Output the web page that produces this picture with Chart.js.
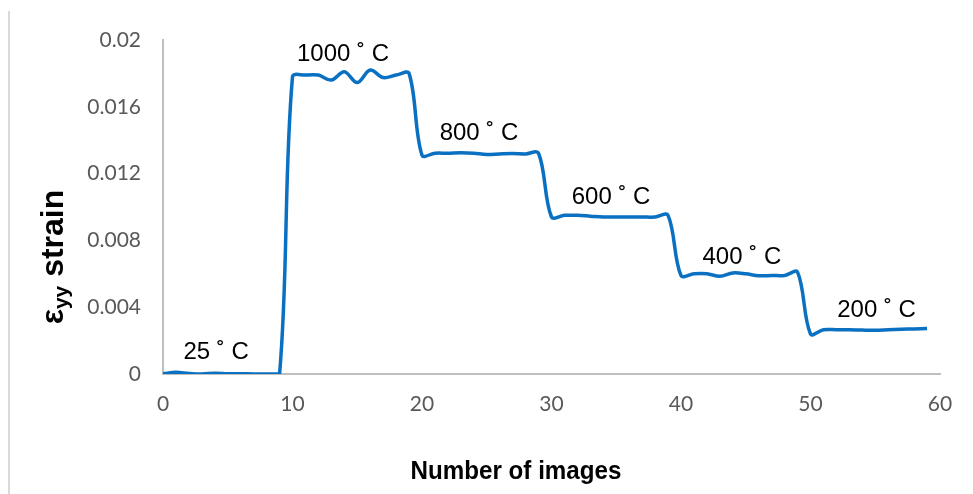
<!DOCTYPE html>
<html>
<head>
<meta charset="utf-8">
<script src="https://cdn.jsdelivr.net/npm/chart.js@4/dist/chart.umd.min.js"></script>
<style>
  html, body { margin: 0; padding: 0; background: #ffffff; }
  #wrap { width: 973px; height: 494px; position: relative; }
</style>
</head>
<body>
<div id="wrap"><canvas id="c" width="973" height="494"></canvas></div>
<script>
// ---- data ----
const imageNumbers = [0,1,2,3,4,5,6,7,8,9,10,11,12,13,14,15,16,17,18,19,20,21,22,23,24,25,26,27,28,29,30,31,32,33,34,35,36,37,38,39,40,41,42,43,44,45,46,47,48,49,50,51,52,53,54,55,56,57,58,59];
const strainValues = [
  0.00002, 0.0001, 0.00003, 0.0, 0.00005, 0.00002, 0.00002, 0.0, 0.0, 0.0,
  0.0178, 0.0179, 0.0179, 0.0176, 0.0181, 0.01745, 0.0182, 0.01775, 0.0179, 0.0180,
  0.0131, 0.01322, 0.01322, 0.01325, 0.01322, 0.01315, 0.01318, 0.0132, 0.01318, 0.01322,
  0.0094, 0.0095, 0.0095, 0.00945, 0.0094, 0.0094, 0.0094, 0.0094, 0.0094, 0.0095,
  0.0059, 0.0060, 0.0060, 0.00585, 0.00605, 0.0060, 0.00588, 0.0059, 0.0059, 0.0061,
  0.0024, 0.00265, 0.00265, 0.00265, 0.00263, 0.00262, 0.00265, 0.00268, 0.0027, 0.00273
];
const yTickValues = [0, 0.004, 0.008, 0.012, 0.016, 0.02];
const yTickLabels = ["0", "0.004", "0.008", "0.012", "0.016", "0.02"];
const xTickValues = [0, 10, 20, 30, 40, 50, 60];
const xTickLabels = ["0", "10", "20", "30", "40", "50", "60"];
const tempLabels = ["25 \u02DA C", "1000 \u02DA C", "800 \u02DA C", "600 \u02DA C", "400 \u02DA C", "200 \u02DA C"];
const tempLabelX = [4.1, 13.9, 24.4, 34.6, 44.7, 55.1];
const tempLabelY = [0.00132, 0.01916, 0.01443, 0.01057, 0.0070, 0.0038];
const xTitle = "Number of images";
const yTitleMain = "\u03B5";
const yTitleSub = "yy";
const yTitleRest = " strain";

const points = imageNumbers.map((x, i) => ({ x: x, y: strainValues[i] }));

const textPlugin = {
  id: 'textPlugin',
  beforeDraw(chart) {
    const ctx = chart.ctx;
    ctx.save();
    ctx.strokeStyle = '#D9D9D9';
    ctx.lineWidth = 2;
    ctx.beginPath();
    ctx.moveTo(9, 11);
    ctx.lineTo(9, 494);
    ctx.stroke();
    ctx.restore();
  },
  afterDraw(chart) {
    const ctx = chart.ctx;
    const xs = chart.scales.x, ys = chart.scales.y;
    ctx.save();
    ctx.fillStyle = '#000000';
    ctx.font = "24px 'Liberation Sans', Arial, sans-serif";
    ctx.textAlign = 'center';
    ctx.textBaseline = 'middle';
    tempLabels.forEach((t, i) => {
      ctx.fillText(t, xs.getPixelForValue(tempLabelX[i]), ys.getPixelForValue(tempLabelY[i]));
    });
    // x title (slightly condensed)
    ctx.save();
    ctx.translate(516, 472);
    ctx.scale(0.93, 1);
    ctx.font = "bold 26px 'Liberation Sans', Arial, sans-serif";
    ctx.fillText(xTitle, 0, 0);
    ctx.restore();
    // y title rotated
    ctx.translate(53, 257);
    ctx.rotate(-Math.PI / 2);
    const fMain = "bold 32px 'Liberation Sans', Arial, sans-serif";
    const fSub = "bold 21px 'Liberation Sans', Arial, sans-serif";
    ctx.font = fMain;
    const w1 = ctx.measureText(yTitleMain).width;
    const w3 = ctx.measureText(yTitleRest).width;
    ctx.font = fSub;
    const w2 = ctx.measureText(yTitleSub).width;
    let x0 = -(w1 + w2 + w3) / 2;
    ctx.textAlign = 'left';
    ctx.textBaseline = 'alphabetic';
    ctx.font = fMain;
    ctx.fillText(yTitleMain, x0, 10);
    ctx.font = fSub;
    ctx.fillText(yTitleSub, x0 + w1, 15);
    ctx.font = fMain;
    ctx.fillText(yTitleRest, x0 + w1 + w2, 10);
    ctx.restore();
  }
};

new Chart(document.getElementById('c'), {
  type: 'line',
  data: {
    datasets: [{
      data: points,
      borderColor: '#0A70C2',
      borderWidth: 3.5,
      pointRadius: 0,
      tension: 0.35,
      fill: false
    }]
  },
  options: {
    responsive: false,
    animation: false,
    events: [],
    layout: { padding: { left: 0, top: 40, right: 33, bottom: 0 } },
    plugins: { legend: { display: false }, tooltip: { enabled: false } },
    scales: {
      x: {
        type: 'linear',
        min: 0, max: 60,
        afterBuildTicks: (s) => { s.ticks = xTickValues.map(v => ({ value: v })); },
        afterFit: (s) => { s.height = 120; },
        grid: { display: false, drawTicks: false },
        border: { display: true, color: '#BFBFBF', width: 2 },
        ticks: {
          padding: 18,
          color: '#595959',
          font: { family: 'Lato', size: 21 },
          maxRotation: 0,
          callback: (v, i) => xTickLabels[i]
        }
      },
      y: {
        type: 'linear',
        min: 0, max: 0.02,
        afterBuildTicks: (s) => { s.ticks = yTickValues.map(v => ({ value: v })); },
        afterFit: (s) => { s.width = 163; },
        grid: { display: false, drawTicks: false },
        border: { display: true, color: '#BFBFBF', width: 2 },
        ticks: {
          padding: 22,
          color: '#595959',
          font: { family: 'Lato', size: 21 },
          callback: (v, i) => yTickLabels[i]
        }
      }
    }
  },
  plugins: [textPlugin]
});
</script>
</body>
</html>
